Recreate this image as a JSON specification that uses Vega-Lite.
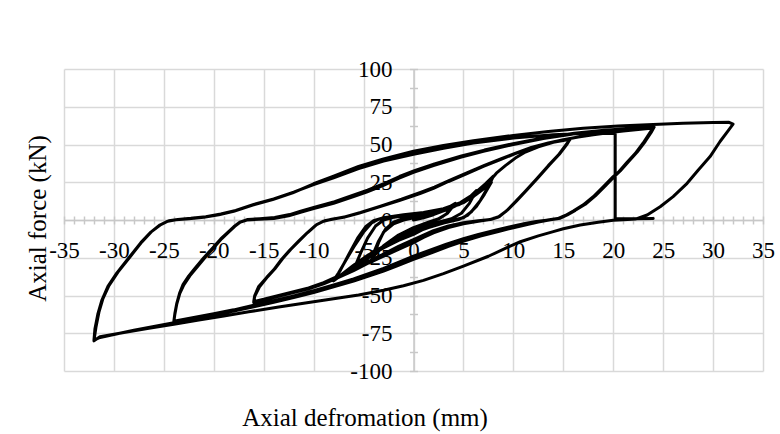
{
  "$schema": "https://vega.github.io/schema/vega-lite/v6.json",
  "width": 699,
  "height": 302,
  "autosize": {"type": "none"},
  "padding": {"left": 64, "top": 69, "right": 17, "bottom": 63},
  "background": "white",
  "config": {
    "view": {"stroke": null},
    "font": "Liberation Serif",
    "axis": {"labelFont": "Liberation Serif", "titleFont": "Liberation Serif", "labelColor": "#000000", "titleColor": "#000000", "titleFontWeight": "normal"}
  },
  "data": {"values": [
    {"d":0,"f":0},{"d":1,"f":1.5},{"d":2,"f":3.5},{"d":3,"f":6},{"d":4,"f":10},
    {"d":3.3,"f":4},{"d":2.5,"f":0.8},{"d":1.5,"f":-1.5},{"d":0,"f":-5},{"d":-1.5,"f":-10},{"d":-3,"f":-17},{"d":-4,"f":-24},
    {"d":-3.5,"f":-15},{"d":-3,"f":-8},{"d":-2,"f":-2.5},{"d":-1,"f":0},{"d":0,"f":1.5},{"d":1.5,"f":3.5},{"d":3,"f":6.5},{"d":4.2,"f":11},
    {"d":3.4,"f":4.5},{"d":2.6,"f":1},{"d":1.5,"f":-1.5},{"d":0,"f":-5.5},{"d":-1.5,"f":-10.5},{"d":-3,"f":-17.5},{"d":-4.2,"f":-25},
    {"d":-3.5,"f":-14},{"d":-2.8,"f":-6},{"d":-2,"f":-1.5},{"d":-1,"f":1},{"d":0.5,"f":2.5},{"d":2,"f":4},{"d":3.5,"f":7},{"d":4.7,"f":11},{"d":5.6,"f":15},{"d":6.3,"f":19.5},
    {"d":5.6,"f":11},{"d":4.8,"f":4.5},{"d":3.8,"f":0.8},{"d":2.5,"f":-1.5},{"d":1,"f":-4.5},{"d":0,"f":-7},{"d":-1.5,"f":-11.5},{"d":-3,"f":-17.5},{"d":-4.5,"f":-25},{"d":-6,"f":-33},
    {"d":-5.3,"f":-22},{"d":-4.6,"f":-12},{"d":-3.8,"f":-4},{"d":-3,"f":0},{"d":-2,"f":1.8},{"d":-0.5,"f":3},{"d":1.5,"f":4.5},{"d":3.5,"f":7.5},{"d":5,"f":11.5},{"d":6.2,"f":16.5},{"d":7.2,"f":21.5},{"d":7.8,"f":25},
    {"d":7.1,"f":17},{"d":6.3,"f":9},{"d":5.4,"f":3},{"d":4.5,"f":0.3},{"d":3,"f":-2},{"d":1.5,"f":-5},{"d":0,"f":-8.5},{"d":-1.5,"f":-12.5},{"d":-3,"f":-17.5},{"d":-4.5,"f":-23},{"d":-6,"f":-30},{"d":-7,"f":-35},{"d":-8,"f":-40},
    {"d":-7.5,"f":-35},{"d":-6.8,"f":-27},{"d":-6,"f":-18},{"d":-5,"f":-8},{"d":-4.2,"f":-2},{"d":-3.5,"f":0.5},{"d":-2.5,"f":2},{"d":-1,"f":3.5},{"d":1,"f":5},{"d":3,"f":7.5},{"d":4.7,"f":11.5},{"d":6,"f":17},{"d":7.2,"f":24},{"d":8,"f":29},
    {"d":7.4,"f":21},{"d":6.7,"f":13},{"d":5.8,"f":5.5},{"d":5,"f":1.5},{"d":4,"f":0},{"d":2.5,"f":-2.5},{"d":1,"f":-6},{"d":0,"f":-9.5},{"d":-1.5,"f":-13.5},{"d":-3,"f":-18.5},{"d":-4.5,"f":-24},{"d":-6,"f":-30.5},{"d":-7,"f":-35.5},{"d":-8,"f":-40.3},
    {"d":-7.3,"f":-33},{"d":-6.5,"f":-23},{"d":-5.6,"f":-12},{"d":-4.8,"f":-4.5},{"d":-4,"f":-0.5},{"d":-3,"f":1.5},{"d":-1.5,"f":3},{"d":0.5,"f":4.5},{"d":2.5,"f":6.5},{"d":4.5,"f":10},{"d":6,"f":15.5},{"d":7.2,"f":22.5},{"d":8.3,"f":31},
    {"d":9.2,"f":36},{"d":10.2,"f":41},{"d":11.2,"f":45},{"d":12.5,"f":48.5},{"d":14,"f":51.5},{"d":15.7,"f":53.5},
    {"d":15.3,"f":50},{"d":14.5,"f":43},{"d":13.5,"f":36},{"d":12.3,"f":27},{"d":11.2,"f":19},{"d":10.2,"f":12},{"d":9.3,"f":6},{"d":8.5,"f":2},{"d":7.7,"f":0.3},{"d":6.5,"f":-0.5},{"d":5,"f":-1.8},{"d":3.5,"f":-4},{"d":2,"f":-7},{"d":1,"f":-10},{"d":0,"f":-13},{"d":-1.5,"f":-17.5},{"d":-3,"f":-22.5},{"d":-4.5,"f":-27.5},{"d":-6,"f":-32.5},{"d":-7,"f":-35.5},{"d":-8,"f":-38.5},{"d":-9,"f":-41.5},{"d":-10.5,"f":-45},{"d":-12,"f":-47.5},{"d":-13.5,"f":-50},{"d":-15,"f":-52.5},{"d":-16,"f":-54},
    {"d":-15.9,"f":-50},{"d":-15.5,"f":-44},{"d":-14.7,"f":-38},{"d":-14,"f":-33},{"d":-13.2,"f":-26},{"d":-12.4,"f":-20},{"d":-11.5,"f":-14},{"d":-10.7,"f":-8.8},{"d":-9.8,"f":-3.5},{"d":-9,"f":-0.8},{"d":-8.2,"f":0.5},{"d":-7,"f":1.8},{"d":-5.5,"f":4.5},{"d":-3.5,"f":8.5},{"d":-1.35,"f":13},{"d":0.65,"f":17.5},{"d":2,"f":21},{"d":3.5,"f":25.5},{"d":5.3,"f":30.5},{"d":7,"f":35.5},{"d":8.7,"f":40},{"d":10.2,"f":44},{"d":11.7,"f":47.5},{"d":13.3,"f":50.5},{"d":14.7,"f":52.5},{"d":15.7,"f":53.8},
    {"d":15.4,"f":50.5},{"d":14.6,"f":43.5},{"d":13.6,"f":36.5},{"d":12.4,"f":27.5},{"d":11.3,"f":19.5},{"d":10.3,"f":12.5},{"d":9.4,"f":6.5},{"d":8.6,"f":2.3},{"d":7.8,"f":0.5},{"d":6.5,"f":-0.8},{"d":5,"f":-2.5},{"d":3.5,"f":-5},{"d":2,"f":-8.5},{"d":1,"f":-11.5},{"d":0,"f":-15},{"d":-1.5,"f":-19.5},{"d":-3,"f":-24},{"d":-4.5,"f":-28.5},{"d":-6,"f":-33.5},{"d":-7,"f":-36.5},{"d":-8,"f":-39.5},{"d":-9,"f":-42.3},{"d":-10.5,"f":-45.5},{"d":-12,"f":-48},{"d":-13.5,"f":-50.5},{"d":-15,"f":-53},{"d":-16,"f":-54.5},
    {"d":-15.9,"f":-50.5},{"d":-15.4,"f":-44},{"d":-14.6,"f":-37.5},{"d":-13.9,"f":-32.5},{"d":-13.1,"f":-25.5},{"d":-12.3,"f":-19.5},{"d":-11.4,"f":-13.5},{"d":-10.6,"f":-8.3},{"d":-9.7,"f":-3},{"d":-8.9,"f":-0.5},{"d":-8,"f":0.7},{"d":-6.8,"f":2.2},{"d":-5.3,"f":5},{"d":-3.3,"f":9.2},{"d":-1.2,"f":13.8},{"d":0.7,"f":18.3},{"d":2.1,"f":21.8},{"d":3.6,"f":26.3},{"d":5.4,"f":31.3},{"d":7.1,"f":36.2},{"d":8.8,"f":40.6},{"d":10.3,"f":44.5},{"d":11.8,"f":48},{"d":13.5,"f":51},{"d":15,"f":53.2},{"d":16.5,"f":55},{"d":18,"f":56.5},{"d":19.5,"f":57.8},{"d":21,"f":59},{"d":22.5,"f":60},{"d":24,"f":61},
    {"d":23.6,"f":57},{"d":23,"f":51},{"d":22.2,"f":44},{"d":21.3,"f":37.5},{"d":20.5,"f":31.5},{"d":20,"f":28.7},{"d":19,"f":22},{"d":18,"f":15.4},{"d":17,"f":10},{"d":16,"f":6},{"d":15.2,"f":3},{"d":14.5,"f":1},{"d":13.5,"f":0},{"d":12.3,"f":-1},{"d":11.3,"f":-2.2},{"d":9.8,"f":-4.3},{"d":8.3,"f":-6.6},{"d":6.5,"f":-9.5},{"d":5,"f":-12.3},{"d":3.3,"f":-16},{"d":1.65,"f":-20},{"d":0,"f":-24},{"d":-1.7,"f":-28.5},{"d":-3,"f":-32},{"d":-4.5,"f":-35.5},{"d":-6,"f":-39},{"d":-8,"f":-43},{"d":-10,"f":-46.8},{"d":-12,"f":-50.3},{"d":-14,"f":-53.5},{"d":-16,"f":-56.5},{"d":-18,"f":-59.5},{"d":-20,"f":-62},{"d":-22,"f":-64.5},{"d":-24,"f":-67},
    {"d":-23.9,"f":-62},{"d":-23.7,"f":-55},{"d":-23.4,"f":-48},{"d":-23.1,"f":-43},{"d":-22.5,"f":-37},{"d":-22,"f":-33},{"d":-21,"f":-25},{"d":-20,"f":-17.7},{"d":-19.3,"f":-12.5},{"d":-18.7,"f":-8.8},{"d":-18,"f":-4.5},{"d":-17.4,"f":-1.5},{"d":-16.7,"f":0},{"d":-15.5,"f":0.5},{"d":-14,"f":1},{"d":-12.5,"f":2.8},{"d":-11.4,"f":5},{"d":-10,"f":7.5},{"d":-8,"f":11},{"d":-6,"f":15.5},{"d":-4.7,"f":18.5},{"d":-3,"f":23},{"d":-1.5,"f":27.5},{"d":0,"f":31.5},{"d":2,"f":36},{"d":4.7,"f":41.5},{"d":7,"f":45.5},{"d":10,"f":50},{"d":13,"f":54},{"d":16,"f":57},{"d":19,"f":59.2},{"d":22,"f":60.5},{"d":24,"f":61.2},
    {"d":23.7,"f":57.5},{"d":23.1,"f":51.5},{"d":22.3,"f":44.5},{"d":21.4,"f":38},{"d":20.6,"f":32},{"d":20.1,"f":29},{"d":19.1,"f":22.3},{"d":18.1,"f":15.7},{"d":17.1,"f":10.2},{"d":16.1,"f":6.2},{"d":15.3,"f":3.2},{"d":14.6,"f":1.1},{"d":13.6,"f":0.1},{"d":12.4,"f":-1.2},{"d":11.4,"f":-2.5},{"d":9.9,"f":-4.7},{"d":8.4,"f":-7.1},{"d":6.6,"f":-10.1},{"d":5.1,"f":-13},{"d":3.4,"f":-16.8},{"d":1.7,"f":-21},{"d":0,"f":-25.2},{"d":-1.7,"f":-29.6},{"d":-3,"f":-33},{"d":-4.5,"f":-36.4},{"d":-6,"f":-39.8},{"d":-8,"f":-43.7},{"d":-10,"f":-47.4},{"d":-12,"f":-50.8},{"d":-14,"f":-54},{"d":-16,"f":-57},{"d":-18,"f":-59.9},{"d":-20,"f":-62.5},{"d":-22,"f":-65},{"d":-24,"f":-67.5},
    {"d":-23.9,"f":-62.5},{"d":-23.7,"f":-55.5},{"d":-23.4,"f":-48.5},{"d":-23,"f":-43},{"d":-22.4,"f":-37},{"d":-21.9,"f":-33},{"d":-20.9,"f":-25},{"d":-19.9,"f":-17.5},{"d":-19.2,"f":-12.3},{"d":-18.6,"f":-8.5},{"d":-17.9,"f":-4.2},{"d":-17.3,"f":-1.2},{"d":-16.6,"f":0.3},{"d":-15.4,"f":0.9},{"d":-13.9,"f":1.6},{"d":-12.4,"f":3.6},{"d":-11.3,"f":5.9},{"d":-9.9,"f":8.5},{"d":-7.9,"f":12.1},{"d":-5.9,"f":16.7},{"d":-4.6,"f":19.8},{"d":-2.9,"f":24.3},{"d":-1.4,"f":28.8},{"d":0.1,"f":32.7},{"d":2.1,"f":37.1},{"d":4.8,"f":42.4},{"d":7.1,"f":46.3},{"d":10.1,"f":50.7},{"d":13.1,"f":54.5},{"d":16.1,"f":57.4},{"d":19.1,"f":59.5},{"d":22,"f":60.8},{"d":24.1,"f":61.5},
    {"d":23.8,"f":58},{"d":23.2,"f":52},{"d":22.4,"f":45},{"d":21.5,"f":38.5},{"d":20.7,"f":32.5},{"d":20.2,"f":29.3},{"d":19.2,"f":22.6},{"d":18.2,"f":16},{"d":17.2,"f":10.4},{"d":16.2,"f":6.4},{"d":15.4,"f":3.4},{"d":14.7,"f":1.2},{"d":13.7,"f":0.2},{"d":12.5,"f":-1.4},{"d":11.5,"f":-2.8},{"d":10,"f":-5.1},{"d":8.5,"f":-7.6},{"d":6.7,"f":-10.7},{"d":5.2,"f":-13.7},{"d":3.5,"f":-17.5},{"d":1.8,"f":-21.8},{"d":0,"f":-26},{"d":-1.7,"f":-30.5},{"d":-3,"f":-33.8},{"d":-4.5,"f":-37.2},{"d":-6,"f":-40.5},{"d":-8,"f":-44.3},{"d":-10,"f":-48},{"d":-12,"f":-51.3},{"d":-14,"f":-54.5},{"d":-16,"f":-57.5},{"d":-18,"f":-60.3},{"d":-20,"f":-63},{"d":-22,"f":-65.5},{"d":-24,"f":-68},{"d":-26,"f":-70.5},{"d":-28,"f":-73},{"d":-30,"f":-75.8},{"d":-31.5,"f":-78},{"d":-32,"f":-79.5},
    {"d":-31.9,"f":-72},{"d":-31.6,"f":-62},{"d":-31.2,"f":-53},{"d":-30.6,"f":-44},{"d":-29.7,"f":-35},{"d":-28.5,"f":-25},{"d":-27.3,"f":-15},{"d":-26.3,"f":-8},{"d":-25.4,"f":-3.3},{"d":-24.6,"f":-0.8},{"d":-23.8,"f":0.2},{"d":-22.5,"f":0.8},{"d":-21,"f":1.8},{"d":-19.5,"f":3.5},{"d":-18,"f":5.8},{"d":-16.1,"f":9.9},{"d":-14.1,"f":13.5},{"d":-12.1,"f":18},{"d":-10,"f":24},{"d":-8,"f":29},{"d":-5.5,"f":35.5},{"d":-3,"f":40.5},{"d":0,"f":45.5},{"d":3,"f":49.3},{"d":6,"f":52.5},{"d":10,"f":56},{"d":13.5,"f":58.6},{"d":17,"f":60.7},{"d":20.5,"f":62.2},{"d":24,"f":63.3},{"d":27,"f":64},{"d":30,"f":64.5},{"d":31.6,"f":64.7},{"d":32,"f":63.5},
    {"d":31.5,"f":59},{"d":30.7,"f":52},{"d":29.7,"f":42},{"d":28.5,"f":33},{"d":27.4,"f":24.3},{"d":26,"f":15.5},{"d":24.7,"f":8.8},{"d":23.4,"f":3.3},{"d":22.3,"f":0.7},{"d":21,"f":0.2},{"d":20,"f":-0.2},{"d":18.5,"f":-1.5},{"d":16.7,"f":-3.3},{"d":15,"f":-5.8},{"d":14,"f":-7.7},{"d":12.5,"f":-10.5},{"d":10.7,"f":-14.4},{"d":9.3,"f":-18.5},{"d":7.5,"f":-24},{"d":5,"f":-30.5},{"d":3,"f":-35.5},{"d":1,"f":-40},{"d":-1,"f":-43.5},{"d":-3,"f":-46.5},{"d":-5.5,"f":-49.7},{"d":-8,"f":-52.2},{"d":-10.5,"f":-54.6},{"d":-13.5,"f":-57.6},{"d":-16.5,"f":-60.8},{"d":-19,"f":-63.6},{"d":-21.5,"f":-66.3},{"d":-24,"f":-69},{"d":-26.5,"f":-71.7},{"d":-29,"f":-74.5},{"d":-31.4,"f":-77.3},{"d":-32,"f":-80},
    {"d":-31.8,"f":-71},{"d":-31.5,"f":-61},{"d":-31.1,"f":-52},{"d":-30.5,"f":-43.5},{"d":-29.6,"f":-34.5},{"d":-28.4,"f":-24.5},{"d":-27.2,"f":-14.5},{"d":-26.2,"f":-7.5},{"d":-25.3,"f":-3},{"d":-24.5,"f":-0.5},{"d":-23.6,"f":0.4},{"d":-22.3,"f":1.1},{"d":-20.8,"f":2.2},{"d":-19.3,"f":4},{"d":-17.8,"f":6.3},{"d":-16,"f":10.3},{"d":-14,"f":14},{"d":-12,"f":18.5},{"d":-10,"f":23.5},{"d":-8,"f":28},{"d":-5.5,"f":34},{"d":-3,"f":39},{"d":0,"f":43.5},{"d":3,"f":47.5},{"d":6,"f":51},{"d":10,"f":54.3},{"d":14,"f":56.5},{"d":17,"f":57.3},{"d":20.2,"f":57.5},
    {"d":20.2,"f":0.8},{"d":22,"f":0.8},{"d":24,"f":1}
  ]},
  "layer": [
    {
      "data": {"values": [{"d": 0, "f": 0}]},
      "mark": {"type": "point", "opacity": 0},
      "encoding": {
        "x": {"field": "d", "type": "quantitative", "scale": {"domain": [-35, 35], "nice": false, "zero": false},
          "axis": {"orient": "bottom", "offset": -151, "title": null,
            "values": [-35,-34,-33,-32,-31,-30,-29,-28,-27,-26,-25,-24,-23,-22,-21,-20,-19,-18,-17,-16,-15,-14,-13,-12,-11,-10,-9,-8,-7,-6,-5,-4,-3,-2,-1,0,1,2,3,4,5,6,7,8,9,10,11,12,13,14,15,16,17,18,19,20,21,22,23,24,25,26,27,28,29,30,31,32,33,34,35],
            "labelExpr": "datum.value % 5 === 0 ? '' + datum.value : ''",
            "labelFontSize": 23, "labelPadding": 15, "labelFlush": false, "labelOverlap": false, "labelBound": false,
            "grid": true, "gridColor": "#d9d9d9", "gridWidth": 1.5,
            "gridOpacity": {"condition": {"test": "datum.value % 5 === 0", "value": 1}, "value": 0},
            "domain": true, "domainColor": "#c8c8c8", "domainWidth": 1.5,
            "ticks": true, "tickColor": "#c8c8c8", "tickSize": 4, "tickWidth": 1.5}},
        "y": {"field": "f", "type": "quantitative", "scale": {"domain": [-100, 100], "nice": false, "zero": false},
          "axis": {"orient": "left", "offset": -349.5, "title": null,
            "values": [-100,-87.5,-75,-62.5,-50,-37.5,-25,-12.5,0,12.5,25,37.5,50,62.5,75,87.5,100],
            "labelExpr": "datum.value % 25 === 0 ? '' + datum.value : ''",
            "labelFontSize": 23, "labelPadding": 17.5, "labelOverlap": false, "labelBound": false, "labelFlush": false,
            "grid": true, "gridColor": "#d9d9d9", "gridWidth": 1.5,
            "gridOpacity": {"condition": {"test": "datum.value % 25 === 0", "value": 1}, "value": 0},
            "domain": true, "domainColor": "#c8c8c8", "domainWidth": 1.5,
            "ticks": true, "tickColor": "#c8c8c8", "tickSize": 4, "tickWidth": 1.5}}
      }
    },
    {
      "data": {"values": [{"d": 0, "f": 0}]},
      "mark": {"type": "point", "opacity": 0},
      "encoding": {
        "x": {"field": "d", "type": "quantitative",
          "axis": {"orient": "top", "offset": -151, "title": null, "labels": false, "grid": false, "domain": false,
            "values": [-35,-34,-33,-32,-31,-30,-29,-28,-27,-26,-25,-24,-23,-22,-21,-20,-19,-18,-17,-16,-15,-14,-13,-12,-11,-10,-9,-8,-7,-6,-5,-4,-3,-2,-1,0,1,2,3,4,5,6,7,8,9,10,11,12,13,14,15,16,17,18,19,20,21,22,23,24,25,26,27,28,29,30,31,32,33,34,35],
            "ticks": true, "tickColor": "#c8c8c8", "tickSize": 4, "tickWidth": 1.5}},
        "y": {"field": "f", "type": "quantitative",
          "axis": {"orient": "right", "offset": -349.5, "title": null, "labels": false, "grid": false, "domain": false,
            "values": [-100,-87.5,-75,-62.5,-50,-37.5,-25,-12.5,0,12.5,25,37.5,50,62.5,75,87.5,100],
            "ticks": true, "tickColor": "#c8c8c8", "tickSize": 4, "tickWidth": 1.5}}
      }
    },
    {
      "mark": {"type": "line", "color": "#000000", "strokeWidth": 3, "strokeJoin": "round", "strokeCap": "round"},
      "encoding": {
        "x": {"field": "d", "type": "quantitative",
          "axis": {"orient": "bottom", "offset": 0, "labels": false, "ticks": false, "domain": false, "grid": false,
            "title": "Axial defromation (mm)", "titleFontSize": 25, "titleX": 300.5, "titleY": 54, "titleAlign": "center", "titleBaseline": "alphabetic"}},
        "y": {"field": "f", "type": "quantitative",
          "axis": {"orient": "left", "offset": 0, "labels": false, "ticks": false, "domain": false, "grid": false,
            "title": "Axial force (kN)", "titleFontSize": 25, "titleX": -19, "titleY": 149, "titleAngle": -90, "titleAlign": "center", "titleBaseline": "alphabetic"}},
        "order": {"value": null}
      }
    }
  ],
  "resolve": {"axis": {"x": "independent", "y": "independent"}}
}
